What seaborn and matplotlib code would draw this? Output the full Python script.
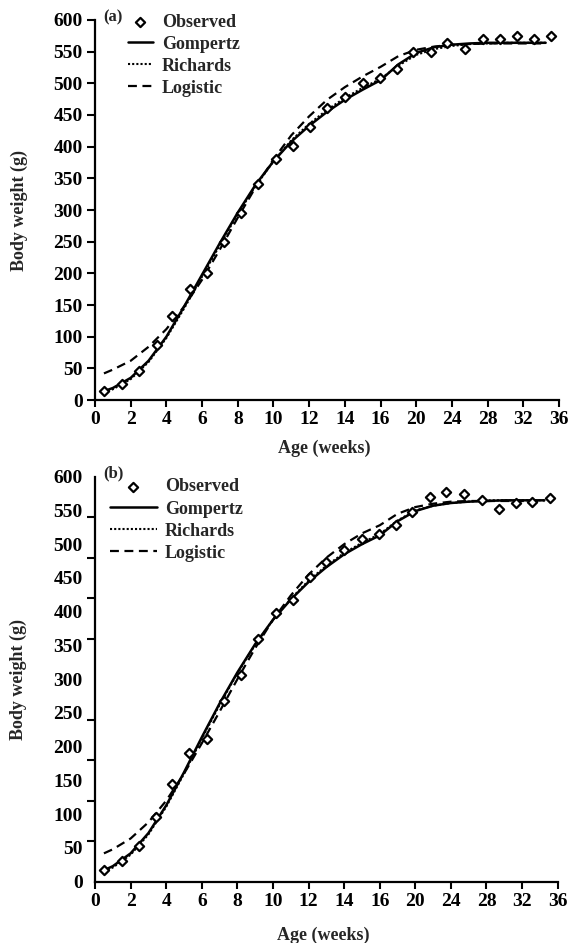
import numpy as np
import matplotlib
matplotlib.use("Agg")
import matplotlib.pyplot as plt
import seaborn as sns
from matplotlib.ticker import FixedLocator, NullFormatter

# ---------------- data ----------------
obs_weeks = [0.5, 1.5, 2.45, 3.45, 4.3, 5.3, 6.3, 7.25, 8.2, 9.14, 10.15, 11.1,
             12.07, 13.0, 14.0, 15.0, 15.95, 17.85, 19.6, 21.65, 23.5, 25.5,
             27.5, 29.35, 31.3, 33.15, 35.15]
obs_a = [14, 26, 46, 87, 133, 176, 201, 249, 296, 341, 380, 401, 431, 461, 478,
         500, 508, 523, 550, 549, 564, 554, 570, 570, 574, 570, 575]
obs_b = [18, 30, 53, 96, 145, 190, 211, 267, 306, 360, 398, 417, 451, 474, 492,
         507, 515, 529, 548, 570, 578, 574, 566, 552, 561, 563, 568]

fit_weeks = [0.5, 1, 2, 3, 4, 5, 6, 7, 8, 9, 10, 11, 12, 13, 14, 15, 16, 18, 20,
             22, 24, 26, 28, 30, 32, 34.5]
gompertz_a = [14, 19, 35, 62, 100, 148, 198, 248, 296, 340, 377, 408, 433, 455, 474,
              490, 505, 530, 548, 557, 561, 563, 564, 564, 564, 564]
richards_a = [12, 17, 33, 60, 98, 145, 195, 245, 294, 338, 377, 410, 436, 458, 477,
              493, 507, 528, 545, 554, 559, 562, 563, 564, 564, 564]
logistic_a = [42, 48, 62, 84, 112, 148, 190, 238, 288, 336, 380, 418, 448, 474, 494,
              511, 526, 543, 553, 558, 561, 562, 563, 563, 563, 563]

gompertz_b = [17, 23, 42, 72, 113, 162, 214, 264, 310, 352, 388, 418, 444, 466, 485,
              500, 513, 534, 549, 557, 561, 563, 564, 565, 565, 565]
richards_b = [15, 21, 40, 70, 111, 160, 212, 262, 309, 351, 388, 419, 446, 468, 487,
              502, 515, 535, 550, 557, 561, 563, 565, 565, 565, 565]
logistic_b = [42, 48, 64, 88, 120, 160, 205, 252, 300, 346, 388, 424, 455, 480, 500,
              516, 528, 545, 555, 560, 563, 564, 564, 564, 564, 564]

x_ticks = [0, 2, 4, 6, 8, 10, 12, 14, 16, 20, 24, 28, 32, 36]
y_ticks = [0, 50, 100, 150, 200, 250, 300, 350, 400, 450, 500, 550, 600]
y_marks_b = [0, 60, 120, 180, 240, 300, 360, 420, 480, 540, 600]

# ---------------- style ----------------
sns.set_theme(style="ticks")
plt.rcParams["font.family"] = ["Liberation Serif", "DejaVu Serif"]
plt.rcParams["font.weight"] = "bold"
FS = 13
TFS = 14


def fwd(t):
    t = np.asarray(t, dtype=float)
    return np.where(t <= 16, t / 2.0, 8 + (t - 16) / 4.0)


def inv(p):
    p = np.asarray(p, dtype=float)
    return np.where(p <= 8, p * 2.0, 16 + (p - 8) * 4.0)


fig = plt.figure(figsize=(5.69, 9.43), dpi=100)
ax_a = fig.add_axes([0.1670, 0.5758, 0.8155, 0.4030])
ax_b = fig.add_axes([0.1670, 0.0650, 0.8131, 0.4295])

dash_style = (0, (4, 2.5))
dot_style = (0, (1, 1))


def draw(ax, obs, gom, ric, logi, tag, leg_anchor, handlelen, textpad, ylab_x,
         xlab_y):
    ax.set_xscale("function", functions=(fwd, inv))
    sns.scatterplot(x=obs_weeks, y=obs, ax=ax, marker="D", s=22, color="white",
                    edgecolor="black", linewidth=1.6, zorder=4, label="Observed",
                    clip_on=False)
    sns.lineplot(x=fit_weeks, y=gom, ax=ax, color="black", linewidth=1.8,
                 label="Gompertz", zorder=3)
    sns.lineplot(x=fit_weeks, y=ric, ax=ax, color="black", linewidth=1.5,
                 linestyle=dot_style, label="Richards", zorder=3)
    sns.lineplot(x=fit_weeks, y=logi, ax=ax, color="black", linewidth=1.6,
                 linestyle=dash_style, label="Logistic", zorder=3)
    ax.set_xlim(0, 36)
    ax.set_ylim(0, 600)
    ax.xaxis.set_major_locator(FixedLocator(x_ticks))
    ax.set_xticklabels([str(v) for v in x_ticks])
    ax.xaxis.set_minor_locator(FixedLocator([]))
    for s in ["top", "right"]:
        ax.spines[s].set_visible(False)
    for s in ["left", "bottom"]:
        ax.spines[s].set_linewidth(1.6)
        ax.spines[s].set_color("black")
    ax.tick_params(axis="x", direction="out", length=5, width=1.5, pad=3,
                   labelsize=TFS, colors="black")
    ax.set_xlabel("Age (weeks)", fontsize=FS, fontweight="bold")
    ax.xaxis.set_label_coords(0.493, xlab_y)
    ax.set_ylabel("Body weight (g)", fontsize=FS, fontweight="bold")
    ax.yaxis.set_label_coords(ylab_x, 0.5)
    ax.text(0.039, 1.008, tag, transform=ax.transAxes, ha="center", va="center",
            fontsize=12, fontweight="bold")
    leg = ax.legend(loc="upper left", bbox_to_anchor=leg_anchor, frameon=False,
                    fontsize=FS, borderaxespad=0, borderpad=0, labelspacing=0.28,
                    handlelength=handlelen, handletextpad=textpad, scatterpoints=1)
    for t in leg.get_texts():
        t.set_fontweight("bold")
    return ax


draw(ax_a, obs_a, gompertz_a, richards_a, logistic_a, "(a)", (0.0707, 1.017),
     1.39, 0.5, -0.145, -0.105)
ax_a.yaxis.set_major_locator(FixedLocator(y_ticks))
ax_a.set_yticklabels([str(v) for v in y_ticks])
ax_a.tick_params(axis="y", direction="out", length=6, width=1.5, pad=3,
                 labelsize=TFS, colors="black")

draw(ax_b, obs_b, gompertz_b, richards_b, logistic_b, "(b)", (0.0324, 0.9956),
     2.6, 0.45, -0.146, -0.112)
ax_b.yaxis.set_major_locator(FixedLocator(y_ticks))
ax_b.set_yticklabels([str(v) for v in y_ticks])
ax_b.yaxis.set_minor_locator(FixedLocator(y_marks_b))
ax_b.yaxis.set_minor_formatter(NullFormatter())
ax_b.tick_params(axis="y", which="major", direction="out", length=0, pad=9,
                 labelsize=TFS, colors="black")
ax_b.tick_params(axis="y", which="minor", direction="out", length=6, width=1.5,
                 colors="black", left=True)

fig.savefig("out.png", dpi=100)
